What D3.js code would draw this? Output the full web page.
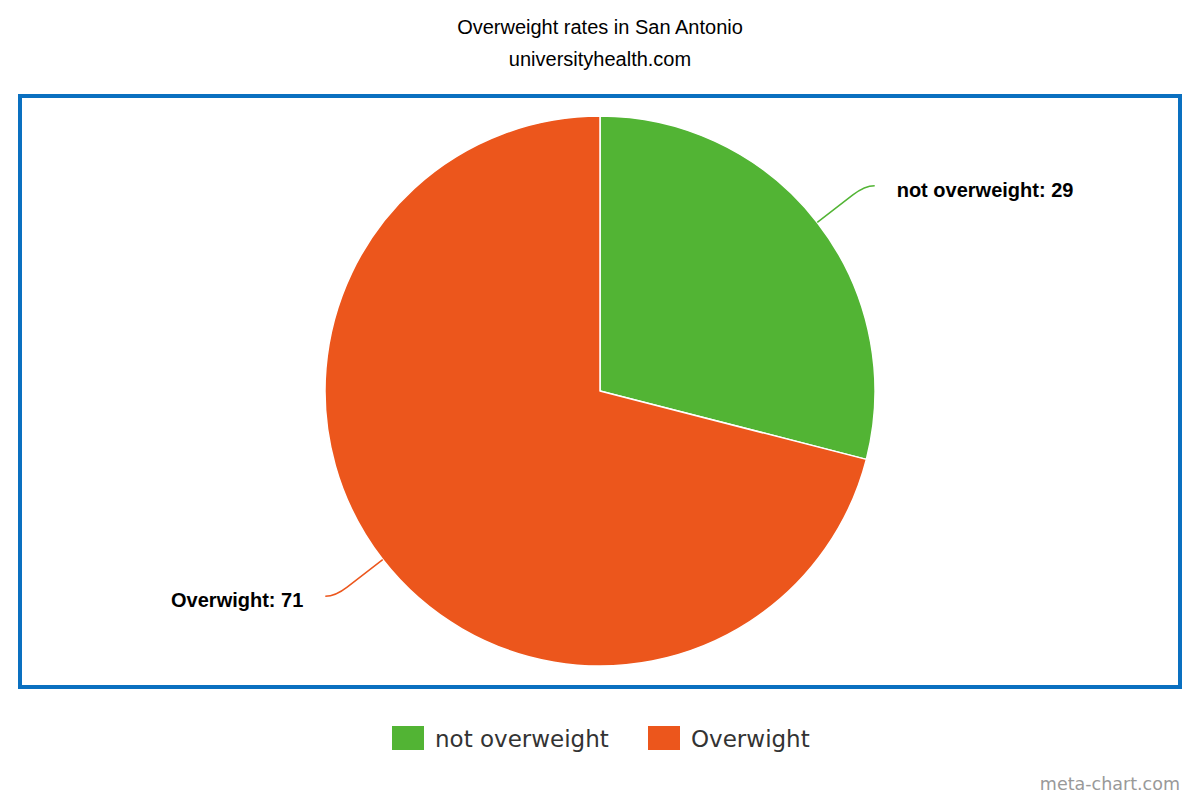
<!DOCTYPE html>
<html>
<head>
  <meta charset='utf-8'>
  <style>
  body { margin: 0; background: #fff; }
  .title { font-family: 'Liberation Sans', Arial, sans-serif; font-size: 20px; fill: #000; }
  .label { font-family: 'Liberation Sans', Arial, sans-serif; font-size: 20px; font-weight: bold; fill: #000; }
  .legend text { font-family: 'DejaVu Sans', Verdana, sans-serif; font-size: 23px; fill: #333; }
  .credit { font-family: 'DejaVu Sans', Verdana, sans-serif; font-size: 17.5px; fill: #999; }
  </style>
</head>
<body>
<script src='https://d3js.org/d3.v7.min.js'></script>
<script>

var categories = ['not overweight', 'Overwight'];
var values = [29, 71];
var colors = ['#52b434', '#ec561c'];

var W = 1200, H = 800;
var cx = 600, cy = 391, radius = 275;

var svg = d3.select('body').append('svg')
    .attr('width', W)
    .attr('height', H);

svg.append('text').attr('class', 'title')
    .attr('x', W / 2).attr('y', 34)
    .attr('text-anchor', 'middle')
    .text('Overweight rates in San Antonio');

svg.append('text').attr('class', 'title')
    .attr('x', W / 2).attr('y', 66)
    .attr('text-anchor', 'middle')
    .text('universityhealth.com');

// plot border
svg.append('rect')
    .attr('x', 20).attr('y', 96)
    .attr('width', 1160).attr('height', 591)
    .attr('fill', 'none')
    .attr('stroke', '#0a70c0')
    .attr('stroke-width', 4);

var data = categories.map(function(c, i) { return {name: c, value: values[i], color: colors[i]}; });

var pie = d3.pie().sort(null).value(function(d) { return d.value; });
var arc = d3.arc().innerRadius(0).outerRadius(radius);

var g = svg.append('g').attr('transform', 'translate(' + cx + ',' + cy + ')');

var arcs = pie(data);

g.selectAll('path.slice')
    .data(arcs)
  .enter().append('path')
    .attr('class', 'slice')
    .attr('d', arc)
    .attr('fill', function(d) { return d.data.color; })
    .attr('stroke', '#fff')
    .attr('stroke-width', 1.5)
    .attr('stroke-linejoin', 'round');

function polar(r, a) { return [r * Math.sin(a), -r * Math.cos(a)]; }

arcs.forEach(function(d) {
  var a = (d.startAngle + d.endAngle) / 2;
  var side = Math.sin(a) >= 0 ? 1 : -1;
  var p0 = polar(radius, a);
  var p1 = polar(radius + 45, a);
  var elbow = polar(radius + 60, a);
  var end = [elbow[0] + side * 10, elbow[1]];
  g.append('path')
      .attr('d', 'M' + p0 + 'L' + p1 + 'Q' + elbow + ' ' + end)
      .attr('fill', 'none')
      .attr('stroke', d.data.color)
      .attr('stroke-width', 1.5);
  g.append('text').attr('class', 'label')
      .attr('x', end[0] + side * 22)
      .attr('y', end[1] + 11)
      .attr('text-anchor', side > 0 ? 'start' : 'end')
      .text(d.data.name + ': ' + d.data.value);
});

// legend
var legendX = [392, 648];
var legend = svg.append('g').attr('class', 'legend');
data.forEach(function(d, i) {
  var item = legend.append('g').attr('transform', 'translate(' + legendX[i] + ',726)');
  item.append('rect').attr('width', 32).attr('height', 24).attr('fill', d.color);
  item.append('text').attr('x', 43).attr('y', 21).text(d.name);
});

svg.append('text').attr('class', 'credit')
    .attr('x', 1180).attr('y', 790)
    .attr('text-anchor', 'end')
    .text('meta-chart.com');

</script>
</body>
</html>
